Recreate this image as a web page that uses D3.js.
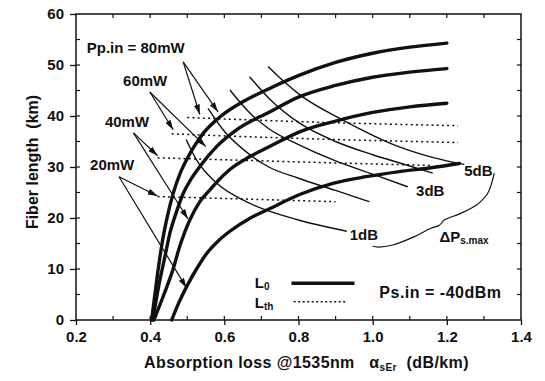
<!DOCTYPE html>
<html>
<head>
<meta charset="utf-8">
<script src="https://cdn.jsdelivr.net/npm/d3@7"></script>
<style>
  body { margin: 0; background: #fff; }
  text { font-family: "Liberation Sans", Arial, Helvetica, sans-serif; font-weight: bold; fill: #111; white-space: pre; }
</style>
</head>
<body>
<div id="chart"></div>
<script>
// Axis ticks
const xTicks = [0.2, 0.4, 0.6, 0.8, 1.0, 1.2, 1.4];
const yTicks = [0, 10, 20, 30, 40, 50, 60];

// L0 curves (solid thick), one per pump power
const l0_80 = [[0.404,0],[0.418,8],[0.432,15],[0.447,20.5],[0.462,24.8],[0.48,28.6],[0.498,31.4],[0.52,34.2],[0.543,36.6],[0.588,39.8],[0.65,42.8],[0.722,45.4],[0.803,48],[0.9,50.5],[1.0,52.3],[1.1,53.5],[1.2,54.3]];
const l0_60 = [[0.407,0],[0.424,7],[0.44,12.5],[0.453,17],[0.47,21],[0.489,24.8],[0.51,27.6],[0.534,30.1],[0.579,34],[0.633,37.3],[0.722,40.8],[0.803,43.8],[0.9,46],[1.0,47.6],[1.1,48.6],[1.2,49.3]];
const l0_40 = [[0.41,0],[0.437,5],[0.462,10],[0.48,14.5],[0.493,17.2],[0.507,19.6],[0.534,23.2],[0.561,25.5],[0.579,27],[0.615,29.5],[0.668,32],[0.722,34],[0.803,36.9],[0.9,39],[1.0,40.7],[1.1,41.8],[1.2,42.5]];
const l0_20 = [[0.458,0],[0.478,3.5],[0.498,6.5],[0.525,10],[0.552,13],[0.585,15.6],[0.615,17.4],[0.668,19.9],[0.722,21.8],[0.803,24.6],[0.893,26.8],[0.982,28.1],[1.072,29.1],[1.162,29.9],[1.234,30.7]];

// Lth curves (dotted)
const lth_80 = [[0.50,39.7],[0.8,38.9],[1.23,38.1]];
const lth_60 = [[0.458,36.5],[0.8,35.6],[1.23,34.8]];
const lth_40 = [[0.42,31.8],[0.8,31.0],[1.16,30.3]];
const lth_20 = [[0.42,24.2],[0.9,23.2]];

// Constant gain-ripple curves, 1..5 dB
const dp1 = [[0.497,35.4],[0.525,31.4],[0.58,26.8],[0.668,22.9],[0.8,19.6],[0.93,17.4]];
const dp2 = [[0.556,41.5],[0.6,37],[0.65,33.5],[0.72,30],[0.8,27.8],[0.9,25.4],[0.991,23.2]];
const dp3 = [[0.615,45.1],[0.67,40.5],[0.72,37.5],[0.803,34.3],[0.9,31.2],[1.0,28.6],[1.095,26.1]];
const dp4 = [[0.668,47.7],[0.72,43.5],[0.803,38.6],[0.9,35],[1.0,32.4],[1.1,30.2],[1.162,28.8]];
const dp5 = [[0.718,49.7],[0.76,46.8],[0.803,44.2],[0.92,39.2],[1.07,34],[1.2,31.2],[1.247,30.5]];

// Pump power labels and their arrows (origin, then two tips)
const pumpLabels = ["Pp.in = 80mW", "60mW", "40mW", "20mW"];
const labelAt = [[0.229,52.4],[0.327,45.9],[0.278,37.8],[0.238,29.4]];
const arrowFrom = [[0.489,50.6],[0.399,44.7],[0.355,36.7],[0.316,28.1]];
const arrowTo = [
  [[0.534,40.3],[0.583,40.8]],
  [[0.462,37.3],[0.55,34]],
  [[0.42,32.2],[0.502,19.8]],
  [[0.42,24.3],[0.498,6.3]]
];

// dB labels on the ripple curves
const dbLabels = ["1dB", "3dB", "5dB"];
const dbAt = [[0.938,15.7],[1.117,24.3],[1.247,28.2]];

// curly brace for the ripple group
const brace = [[1.328,28.8],[1.322,27.1],[1.31,24.8],[1.279,22.5],[1.234,20.8],[1.193,19.6],[1.18,18.6],[1.157,18],[1.108,16.2],[1.054,14.7],[1.014,14.3],[1.0,14.5]];

const W = 545, H = 381;
const margin = { top: 14, right: 24, bottom: 61, left: 76 };
const width = W - margin.left - margin.right;
const height = H - margin.top - margin.bottom;

const svg = d3.select("#chart")
  .append("svg")
  .attr("width", W)
  .attr("height", H)
  .append("g")
  .attr("transform", `translate(${margin.left}, ${margin.top})`);

const x = d3.scaleLinear().domain([0.2, 1.4]).range([0, width]);
const y = d3.scaleLinear().domain([0, 60]).range([height, 0]);

// arrow head
svg.append("defs").append("marker")
  .attr("id", "head")
  .attr("viewBox", "0 0 10 6")
  .attr("refX", 10).attr("refY", 3)
  .attr("markerWidth", 10).attr("markerHeight", 6)
  .attr("markerUnits", "userSpaceOnUse")
  .attr("orient", "auto")
  .append("path")
  .attr("d", "M0,0 L10,3 L0,6 Z")
  .attr("fill", "#111");

// frame
svg.append("rect")
  .attr("width", width).attr("height", height)
  .attr("fill", "none").attr("stroke", "#111").attr("stroke-width", 1.5);

// major ticks outward, with labels
const xAxis = svg.append("g")
  .attr("transform", `translate(0, ${height})`)
  .call(d3.axisBottom(x).tickValues(xTicks).tickSize(5).tickPadding(6).tickFormat(d3.format(".1f")));
const yAxis = svg.append("g")
  .call(d3.axisLeft(y).tickValues(yTicks).tickSize(6).tickPadding(6));
[xAxis, yAxis].forEach(a => {
  a.select(".domain").remove();
  a.selectAll("line").attr("stroke", "#111").attr("stroke-width", 1.3);
  a.selectAll("text").style("font-size", "15px").attr("fill", "#111");
});

// minor ticks inward on all sides
const xMinor = d3.range(0.3, 1.4, 0.1);
const yMinor = d3.range(5, 60, 5);
svg.append("g").selectAll("line").data(xMinor).join("line")
  .attr("x1", d => x(d)).attr("x2", d => x(d))
  .attr("y1", height).attr("y2", height - 4)
  .attr("stroke", "#111").attr("stroke-width", 1.2);
svg.append("g").selectAll("line").data(xMinor).join("line")
  .attr("x1", d => x(d)).attr("x2", d => x(d))
  .attr("y1", 0).attr("y2", 4)
  .attr("stroke", "#111").attr("stroke-width", 1.2);
svg.append("g").selectAll("line").data(yMinor).join("line")
  .attr("x1", 0).attr("x2", 4)
  .attr("y1", d => y(d)).attr("y2", d => y(d))
  .attr("stroke", "#111").attr("stroke-width", 1.2);
svg.append("g").selectAll("line").data(yMinor).join("line")
  .attr("x1", width).attr("x2", width - 4)
  .attr("y1", d => y(d)).attr("y2", d => y(d))
  .attr("stroke", "#111").attr("stroke-width", 1.2);

// axis titles
const xTitle = svg.append("text")
  .attr("x", width / 2 + 8).attr("y", height + 48)
  .attr("text-anchor", "middle")
  .style("font-size", "16px").style("letter-spacing", "0.4px");
xTitle.append("tspan").text("Absorption loss @1535nm   \u03b1");
xTitle.append("tspan").text("sEr").style("font-size", "10px").attr("dy", 3);
xTitle.append("tspan").text("  (dB/km)").attr("dy", -3);

svg.append("text")
  .attr("transform", "rotate(-90)")
  .attr("x", -(height / 2) + 5).attr("y", -38)
  .attr("text-anchor", "middle")
  .style("font-size", "16px")
  .text("Fiber length  (km)");

const line = d3.line()
  .x(d => x(d[0]))
  .y(d => y(d[1]))
  .curve(d3.curveMonotoneX);

// ripple curves
[dp1, dp2, dp3, dp4, dp5].forEach(d => {
  svg.append("path").datum(d).attr("d", line)
    .attr("fill", "none").attr("stroke", "#111").attr("stroke-width", 1.4);
});

// Lth dotted
[lth_80, lth_60, lth_40, lth_20].forEach(d => {
  svg.append("path").datum(d).attr("d", line)
    .attr("fill", "none").attr("stroke", "#111").attr("stroke-width", 1.5)
    .attr("stroke-dasharray", "2,3.2");
});

// L0 thick
[l0_80, l0_60, l0_40, l0_20].forEach(d => {
  svg.append("path").datum(d).attr("d", line)
    .attr("fill", "none").attr("stroke", "#111").attr("stroke-width", 3.4)
    .attr("stroke-linecap", "round");
});

// pump labels + arrows
pumpLabels.forEach((t, i) => {
  svg.append("text")
    .attr("x", x(labelAt[i][0])).attr("y", y(labelAt[i][1]))
    .style("font-size", "15px")
    .text(t);
  arrowTo[i].forEach(p => {
    svg.append("line")
      .attr("x1", x(arrowFrom[i][0])).attr("y1", y(arrowFrom[i][1]))
      .attr("x2", x(p[0])).attr("y2", y(p[1]))
      .attr("stroke", "#111").attr("stroke-width", 1.2)
      .attr("marker-end", "url(#head)");
  });
});

// dB labels
dbLabels.forEach((t, i) => {
  svg.append("text")
    .attr("x", x(dbAt[i][0])).attr("y", y(dbAt[i][1]))
    .style("font-size", "15px")
    .text(t);
});

// brace + delta label
svg.append("path").datum(brace)
  .attr("d", d3.line().x(d => x(d[0])).y(d => y(d[1])).curve(d3.curveCatmullRom))
  .attr("fill", "none").attr("stroke", "#111").attr("stroke-width", 1.2);

const dl = svg.append("text")
  .attr("x", x(1.18)).attr("y", y(15.3))
  .style("font-size", "15px");
dl.append("tspan").text("\u0394P");
dl.append("tspan").text("s.max").style("font-size", "10px").attr("dy", 2);

// legend
const leg = svg.append("g");
const l0t = leg.append("text").attr("x", x(0.682)).attr("y", y(6.3)).style("font-size", "15px");
l0t.append("tspan").text("L");
l0t.append("tspan").text("0").style("font-size", "10px").attr("dy", 2);
leg.append("line")
  .attr("x1", x(0.781)).attr("x2", x(0.951))
  .attr("y1", y(7.2)).attr("y2", y(7.2))
  .attr("stroke", "#111").attr("stroke-width", 3.4);
const ltht = leg.append("text").attr("x", x(0.682)).attr("y", y(2.35)).style("font-size", "15px");
ltht.append("tspan").text("L");
ltht.append("tspan").text("th").style("font-size", "10px").attr("dy", 2);
leg.append("line")
  .attr("x1", x(0.787)).attr("x2", x(0.932))
  .attr("y1", y(3.6)).attr("y2", y(3.6))
  .attr("stroke", "#111").attr("stroke-width", 1.5)
  .attr("stroke-dasharray", "2,2.5");

svg.append("text")
  .attr("x", x(1.018)).attr("y", y(4.3))
  .style("font-size", "16px").style("letter-spacing", "0.5px")
  .text("Ps.in = -40dBm");
</script>
</body>
</html>
